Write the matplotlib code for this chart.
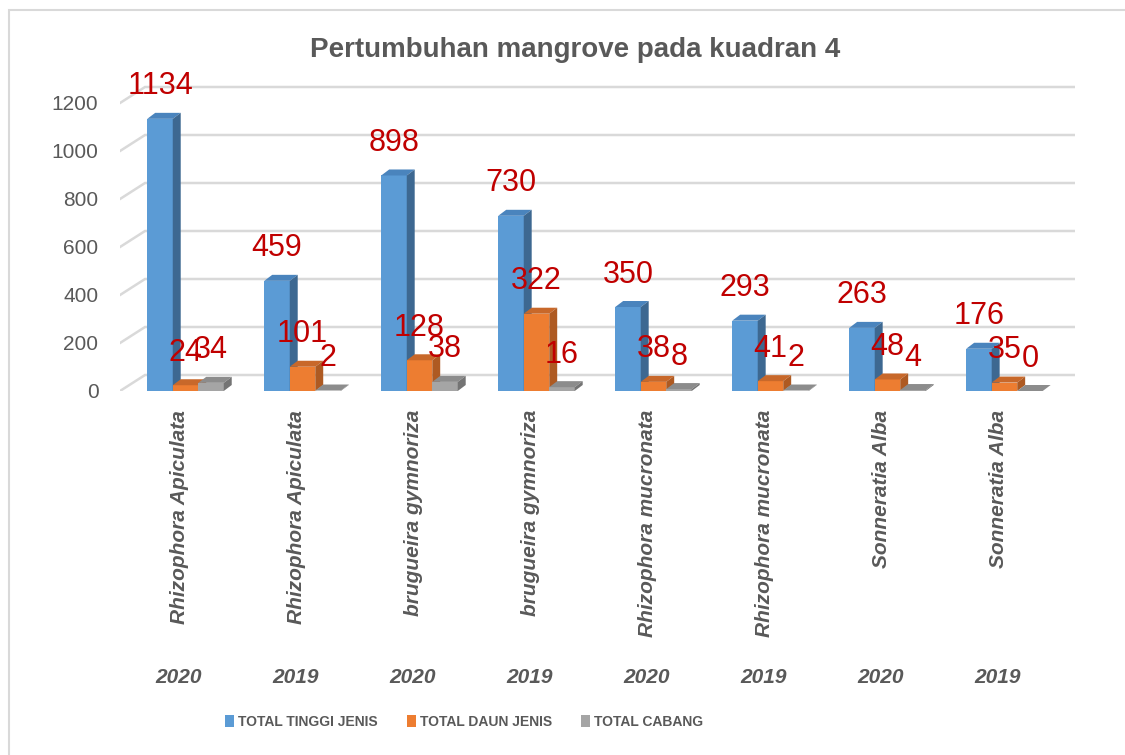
import matplotlib.pyplot as plt
from matplotlib.patches import Polygon, Patch, Rectangle

# data
species = ['Rhizophora Apiculata', 'Rhizophora Apiculata', 'brugueira gymnoriza', 'brugueira gymnoriza',
           'Rhizophora mucronata', 'Rhizophora mucronata', 'Sonneratia Alba', 'Sonneratia Alba']
years = ['2020', '2019', '2020', '2019', '2020', '2019', '2020', '2019']
tinggi = [1134, 459, 898, 730, 350, 293, 263, 176]
daun = [24, 101, 128, 322, 38, 41, 48, 35]
cabang = [34, 2, 38, 16, 8, 2, 4, 0]

series = [('TOTAL TINGGI JENIS', tinggi, '#5b9bd5', '#4a84bd', '#3d6891'),
          ('TOTAL DAUN JENIS', daun, '#ed7d31', '#c8682a', '#ae5a22'),
          ('TOTAL CABANG', cabang, '#a5a5a5', '#8c8c8c', '#747474')]

FONT = ['Liberation Sans', 'DejaVu Sans']
plt.rcParams['font.family'] = FONT
grey = '#595959'

fig = plt.figure(figsize=(11.25, 7.55), dpi=100)
ax = fig.add_axes([120 / 1125, 1 - 391 / 755, 955 / 1125, 321 / 755])
ax.set_xlim(-0.56, 7.603)
ax.set_ylim(0, 1337.5)
for s in ax.spines.values():
    s.set_visible(False)
ax.set_xticks([])
ax.set_yticks(range(0, 1201, 200))
ax.tick_params(axis='y', length=0, pad=15.5, labelsize=15, labelcolor=grey)

# chart frame
fig.patches.append(Rectangle((9 / 1125, -0.1), 1.2, 1 - 10 / 755 + 0.1, transform=fig.transFigure,
                             fill=False, edgecolor='#d9d9d9', lw=1.5))

# back wall gridlines (3d look)
wdx, wdy = 0.214, 66.7
x0, x1 = -0.56, 7.603
for v in range(0, 1201, 200):
    ax.plot([x0, x0 + wdx, x1], [v, v + wdy, v + wdy], color='#d9d9d9', lw=1.8, zorder=1,
            solid_joinstyle='miter')

w = 0.218
ddx, ddy = 0.068, 25
for i in range(len(species)):
    for k, (name, vals, front, top, side) in enumerate(series):
        v = vals[i]
        xl = i + (k - 1) * w - w / 2
        xr = xl + w
        ax.add_patch(Rectangle((xl, 0), w, v, facecolor=front, edgecolor='none', zorder=3))
        ax.add_patch(Polygon([(xl, v), (xr, v), (xr + ddx, v + ddy), (xl + ddx, v + ddy)],
                             facecolor=top, edgecolor='none', zorder=3))
        ax.add_patch(Polygon([(xr, 0), (xr + ddx, ddy), (xr + ddx, v + ddy), (xr, v)],
                             facecolor=side, edgecolor='none', zorder=3))
        ax.text(xl + w / 2, v + 135, str(v), ha='center', va='center', fontsize=22,
                color='#c00000', zorder=5, clip_on=False)
    ax.text(i - 0.05, -79, species[i], rotation=90, ha='center', va='top', fontsize=15,
            fontweight='bold', fontstyle='italic', color=grey, clip_on=False)
    ax.text(i - 0.06, -1192, years[i], ha='center', va='center', fontsize=15,
            fontweight='bold', fontstyle='italic', color=grey, clip_on=False)

fig.text(575 / 1125, 1 - 50 / 755, 'Pertumbuhan mangrove pada kuadran 4', ha='center', va='center',
         fontsize=20, fontweight='bold', color=grey)

handles = [Patch(facecolor=s[2], label=s[0]) for s in series]
leg = fig.legend(handles=handles, loc='center', bbox_to_anchor=(464 / 1125, 1 - 722 / 755), ncol=3,
                 frameon=False, handlelength=0.65, handleheight=1.0, handletextpad=0.3, columnspacing=2.1,
                 prop={'weight': 'bold', 'size': 10})
for t in leg.get_texts():
    t.set_color(grey)

fig.savefig('out.png', dpi=100)
